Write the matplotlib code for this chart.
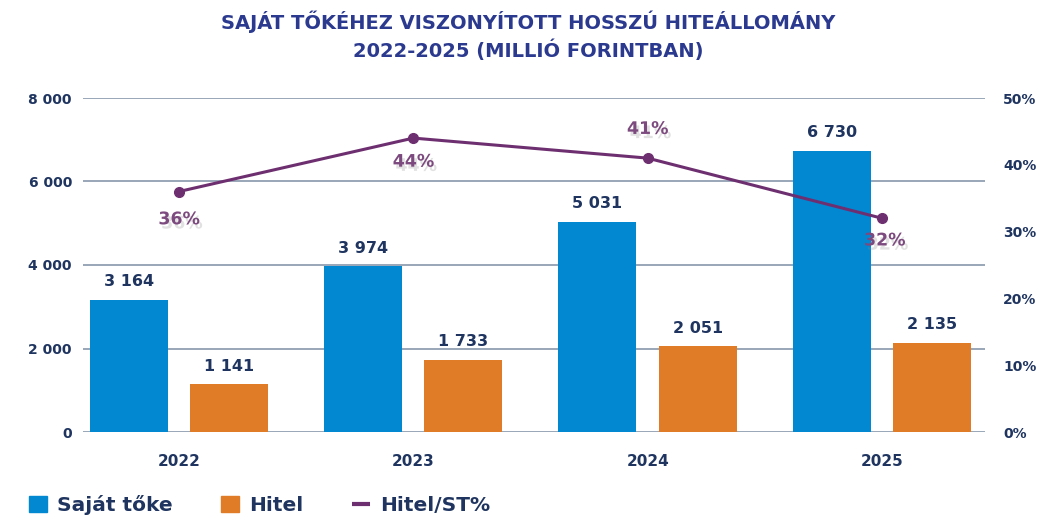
import matplotlib
matplotlib.use('Agg')
import matplotlib.pyplot as plt
import matplotlib.patheffects as pe
from matplotlib.patches import Patch
from matplotlib.lines import Line2D
import numpy as np

# data
years = ['2022', '2023', '2024', '2025']
sajat_toke = [3164, 3974, 5031, 6730]
hitel = [1141, 1733, 2051, 2135]
hitel_st_pct = [36, 44, 41, 32]

title1 = 'SAJÁT TŐKÉHEZ VISZONYÍTOTT HOSSZÚ HITEÁLLOMÁNY'
title2 = '2022-2025 (MILLIÓ FORINTBAN)'
legend_labels = ['Saját tőke', 'Hitel', 'Hitel/ST%']

# label offsets for the percent texts (points)
pct_offsets = [(0, -20), (0, -17), (0, 21), (2, -16)]

NAVY = '#1f3560'
TITLE_C = '#2b3a8f'
BLUE = '#0288d1'
ORANGE = '#e07c28'
PURPLE = '#6e2f70'
PCT_TXT = '#7d4a7f'
GRID = '#8797ab'


def hu(v):
    return f'{v:,.0f}'.replace(',', ' ')


fig = plt.figure(figsize=(10.56, 5.19), dpi=100)
fig.patch.set_facecolor('white')

ax = fig.add_axes([83/1056, 1-432/519, (985-83)/1056, (432-98)/519])
ax.patch.set_alpha(0)

x = np.arange(len(years))
w = 0.333
off = 0.214
ax.bar(x - off, sajat_toke, w, color=BLUE, zorder=2)
ax.bar(x + off, hitel, w, color=ORANGE, zorder=2)

for xi, v in zip(x, sajat_toke):
    ax.annotate(hu(v), (xi - off, v), xytext=(0, 13), textcoords='offset points',
                ha='center', va='center', fontsize=11.5, fontweight='bold', color=NAVY)
for xi, v in zip(x, hitel):
    ax.annotate(hu(v), (xi + off, v), xytext=(0, 13), textcoords='offset points',
                ha='center', va='center', fontsize=11.5, fontweight='bold', color=NAVY)

ax.set_xlim(-0.41, 3.44)
ax.set_ylim(0, 8000)
yt = np.arange(0, 8001, 2000)
ax.set_yticks(yt)
ax.set_yticklabels([hu(v) for v in yt])
ax.set_xticks(x)
ax.set_xticklabels(years)
ax.tick_params(axis='y', length=0, pad=8, labelsize=10, labelcolor=NAVY)
ax.tick_params(axis='x', length=0, pad=16, labelsize=11, labelcolor=NAVY)
for lab in ax.get_yticklabels() + ax.get_xticklabels():
    lab.set_fontweight('bold')
ax.yaxis.grid(True, color=GRID, lw=1.2)
ax.set_axisbelow(True)
for s in ax.spines.values():
    s.set_visible(False)

ax2 = ax.twinx()
ax2.set_ylim(0, 50)
pt = np.arange(0, 51, 10)
ax2.set_yticks(pt)
ax2.set_yticklabels([f'{v}%' for v in pt])
ax2.tick_params(axis='y', length=0, pad=13, labelsize=10, labelcolor=NAVY)
for lab in ax2.get_yticklabels():
    lab.set_fontweight('bold')
for s in ax2.spines.values():
    s.set_visible(False)

ax2.plot(x, hitel_st_pct, color=PURPLE, lw=2.2, marker='o', ms=7, zorder=3)
shadow = [pe.withSimplePatchShadow(offset=(2, -3), shadow_rgbFace='#888888', alpha=0.25)]
for xi, v, o in zip(x, hitel_st_pct, pct_offsets):
    ax2.annotate(f'{v}%', (xi, v), xytext=o, textcoords='offset points',
                 ha='center', va='center', fontsize=12.5, fontweight='bold',
                 color=PCT_TXT, path_effects=shadow)

fig.text(0.5, 1-22/519, title1, ha='center', va='center', fontsize=14,
         fontweight='bold', color=TITLE_C)
fig.text(0.5, 1-50/519, title2, ha='center', va='center', fontsize=14,
         fontweight='bold', color=TITLE_C)

handles = [Patch(color=BLUE), Patch(color=ORANGE),
           Line2D([], [], color=PURPLE, lw=3, solid_capstyle='butt')]
leg = fig.legend(handles, legend_labels, loc='center left', bbox_to_anchor=(11/1056, 14/519),
                 ncol=3, frameon=False, handlelength=0.9, handleheight=0.8,
                 handletextpad=0.5, columnspacing=2.4, fontsize=14.5)
for t in leg.get_texts():
    t.set_fontweight('bold')
    t.set_color(NAVY)

fig.savefig('out.png', dpi=100)
